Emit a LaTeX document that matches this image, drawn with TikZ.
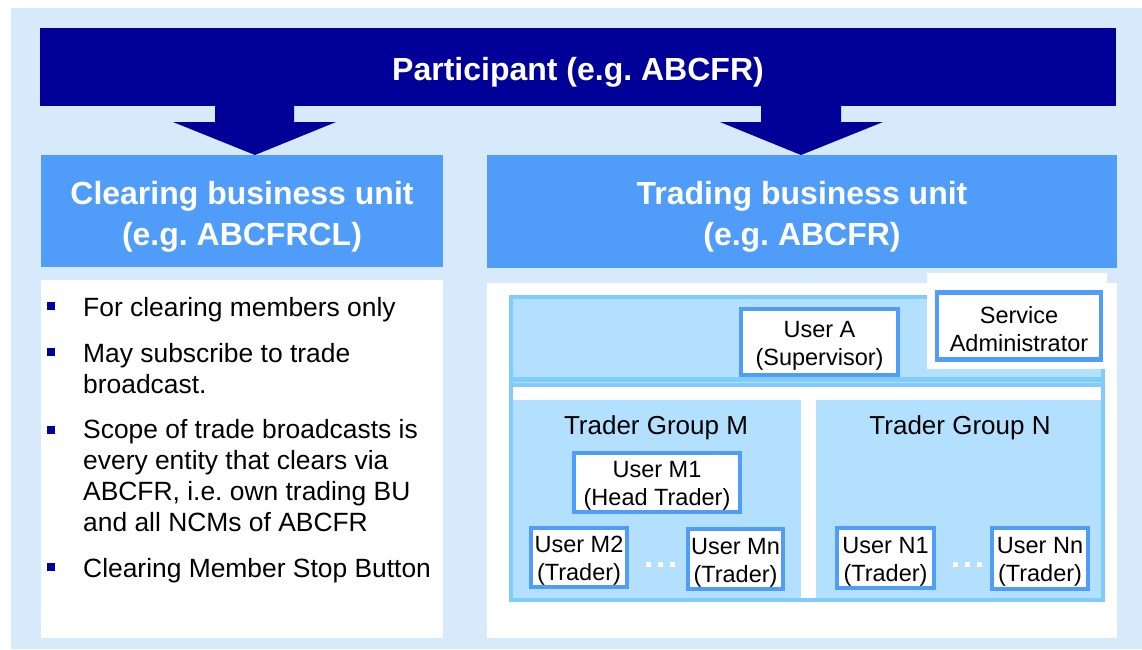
\documentclass[tikz,border=0pt]{standalone}
\usepackage{fontspec}
\setmainfont{Liberation Sans}
\frenchspacing
\definecolor{navy}{RGB}{0,0,153}
\definecolor{midblue}{RGB}{79,157,249}
\definecolor{lightbg}{RGB}{214,234,252}
\definecolor{framefill}{RGB}{179,224,255}
\definecolor{frameborder}{RGB}{128,204,255}
\newcommand{\tstrut}{\rule{0pt}{23.5pt}}
\tikzset{
  userbox/.style={draw=midblue, line width=4.5pt, fill=white, inner sep=0pt, align=center,
    font=\fontsize{23.5}{28}\selectfont},
  headtext/.style={text=white, align=center, inner sep=0pt, font=\fontsize{32}{41}\selectfont\bfseries},
  bullettext/.style={anchor=base west, inner sep=0pt, align=left, font=\fontsize{26.4}{30.7}\selectfont},
  bulletsq/.style={fill=navy, minimum size=8pt, inner sep=0pt},
  grouptext/.style={inner sep=0pt, font=\fontsize{26}{30}\selectfont},
  dotsq/.style={fill=white, minimum size=5pt, inner sep=0pt}
}
\begin{document}
\begin{tikzpicture}[x=1pt,y=-1pt]
\useasboundingbox (0,0) rectangle (1142,649);
\fill[white] (0,0) rectangle (1142,649);
\fill[lightbg] (11,8) rectangle (1142,649);
% banner and arrows
\fill[navy] (40,28) rectangle (1116,106);
\node[headtext] (part) at (578,72) {Participant (e.g. ABCFR)};
\fill[navy] (215,100) -- (215,122) -- (173,122) -- (255,155) -- (336,122) -- (294,122) -- (294,100) -- cycle;
\fill[navy] (761,100) -- (761,122) -- (720,122) -- (801,155) -- (883,122) -- (841,122) -- (841,100) -- cycle;
% unit headers
\fill[midblue] (41,155) rectangle (443,267);
\fill[midblue] (487,155) rectangle (1117,268);
\node[headtext] (clu) at (242,217) {Clearing business unit\\(e.g. ABCFRCL)};
\node[headtext] (tbu) at (802,217) {Trading business unit\\(e.g. ABCFR)};
% left panel
\fill[white] (41,280) rectangle (443,638);
\node[bulletsq] (b1) at (51,306) {};
\node[bullettext] (t1) at (83,316) {For clearing members only};
\node[bulletsq] (b2) at (51,352) {};
\node[bullettext] (t2) at (83,393) {May subscribe to trade\\broadcast.};
\node[bulletsq] (b3) at (51,430) {};
\node[bullettext] (t3) at (83,531) {Scope of trade broadcasts is\\every entity that clears via\\ABCFR, i.e. own trading BU\\and all NCMs of ABCFR};
\node[bulletsq] (b4) at (51,567) {};
\node[bullettext] (t4) at (83,577) {Clearing Member Stop Button};
% right panel
\fill[white] (487,283) rectangle (1117,638);
\draw[draw=frameborder, fill=framefill, line width=4pt] (511,297) rectangle (1103,600);
\fill[frameborder] (513,377) rectangle (1101,387);
\draw[framefill, line width=1pt] (513,382) -- (1101,382);
\fill[white] (513,387) rectangle (1101,400);
\fill[white] (801,400) rectangle (816,598);
\fill[white] (927,273) rectangle (1107,369);
\node[userbox, minimum width=157pt, minimum height=66pt] (ua) at (819.5,342) {\tstrut User A\\(Supervisor)};
\node[userbox, minimum width=164pt, minimum height=67pt] (sa) at (1019,326) {\tstrut Service\\Administrator};
\node[grouptext] (gm) at (656,428) {Trader Group M};
\node[grouptext] (gn) at (960,428) {Trader Group N};
\node[userbox, minimum width=166pt, minimum height=59pt] (m1) at (657,482.5) {\tstrut User M1\\(Head Trader)};
\node[userbox, minimum width=96pt, minimum height=59pt] (m2) at (579,557.5) {\tstrut User M2\\(Trader)};
\node[userbox, minimum width=95pt, minimum height=60pt] (mn) at (735.5,559) {\tstrut User Mn\\(Trader)};
\node[userbox, minimum width=97pt, minimum height=60pt] (n1) at (885.5,558) {\tstrut User N1\\(Trader)};
\node[userbox, minimum width=96pt, minimum height=61pt] (nn) at (1040,558.5) {\tstrut User Nn\\(Trader)};
\node[dotsq] (dm1) at (648,564) {};
\node[dotsq] (dm2) at (660,564) {};
\node[dotsq] (dm3) at (672,564) {};
\node[dotsq] (dn1) at (955,564) {};
\node[dotsq] (dn2) at (967,564) {};
\node[dotsq] (dn3) at (979,564) {};
\end{tikzpicture}
\end{document}
